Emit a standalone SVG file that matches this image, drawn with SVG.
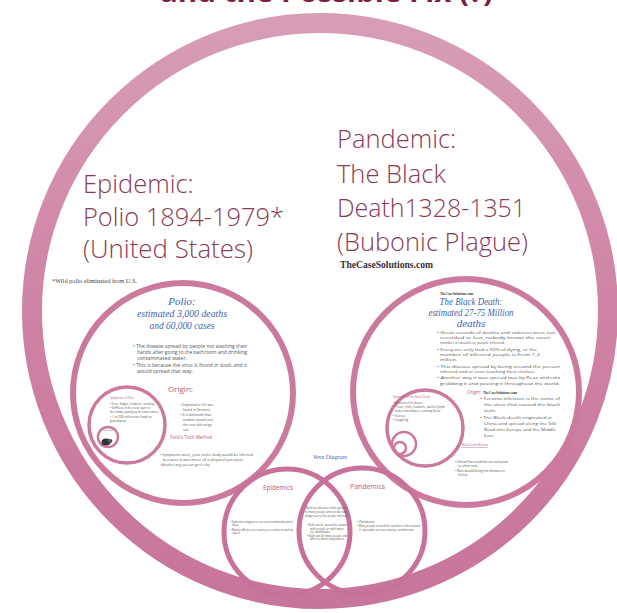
<svg xmlns="http://www.w3.org/2000/svg" width="617" height="613" viewBox="0 0 617 613">
<defs>
<linearGradient id="ringGrad" x1="0" y1="0" x2="0" y2="1">
<stop offset="0" stop-color="#d79db6"/>
<stop offset="0.5" stop-color="#cf83a4"/>
<stop offset="1" stop-color="#c8759b"/>
</linearGradient>
</defs>
<style>
.ring{fill:none;stroke:#cb7a9e}
.big{stroke:url(#ringGrad);stroke-width:20}
.med{stroke-width:6}
.sm{stroke-width:3.5}
.xs{stroke-width:2.5}
.venn{fill:none;stroke:#c8729b;stroke-width:5}
.head{font-family:"Open Sans","Liberation Sans",sans-serif;font-size:25.5px;font-weight:300;fill:#8a3b55}
.blue{font-family:"Liberation Serif",serif;font-style:italic;fill:#3d63b2}
.body{font-family:"Open Sans","Liberation Sans",sans-serif;fill:#555}
.pink{font-family:"Open Sans","Liberation Sans",sans-serif;fill:#b4577f}
.site{font-family:"Liberation Serif",serif;font-weight:bold;fill:#333}
</style>
<rect width="617" height="613" fill="#ffffff"/>
<g id="title">
<text x="160" y="2" font-family="Open Sans, Liberation Sans, sans-serif" font-weight="bold" font-size="28" fill="#7b1e40" textLength="333" lengthAdjust="spacingAndGlyphs">and the Possible Fix (?)</text>
</g>
<g id="outer-circle">
<circle class="ring big" cx="320" cy="311" r="288"/>
</g>
<g id="epidemic-heading">
<text class="head" x="83" y="193">Epidemic:</text>
<text class="head" x="83" y="226" textLength="201" lengthAdjust="spacingAndGlyphs">Polio 1894-1979*</text>
<text class="head" x="83" y="258" textLength="170" lengthAdjust="spacingAndGlyphs">(United States)</text>
<text x="52" y="283" font-family="Liberation Serif, serif" font-size="6" fill="#444" textLength="85" lengthAdjust="spacingAndGlyphs">*Wild polio eliminated from U.S.</text>
</g>
<g id="pandemic-heading">
<text class="head" x="337" y="148">Pandemic:</text>
<text class="head" x="337" y="183">The Black</text>
<text class="head" x="337" y="217" textLength="189" lengthAdjust="spacingAndGlyphs">Death1328-1351</text>
<text class="head" x="337" y="251" textLength="191" lengthAdjust="spacingAndGlyphs">(Bubonic Plague)</text>
<text class="site" x="340" y="268" font-size="10" textLength="93" lengthAdjust="spacingAndGlyphs">TheCaseSolutions.com</text>
</g>
<g id="polio-circle">
<circle class="ring med" cx="183" cy="393" r="110"/>
<text class="blue" x="182" y="305" font-size="11" text-anchor="middle">Polio:</text>
<text class="blue" x="182" y="317" font-size="11" text-anchor="middle" textLength="90" lengthAdjust="spacingAndGlyphs">estimated 3,000 deaths</text>
<text class="blue" x="182" y="329" font-size="11" text-anchor="middle" textLength="65" lengthAdjust="spacingAndGlyphs">and 60,000 cases</text>
<g class="body" font-size="4.5">
<text x="133" y="348" textLength="114" lengthAdjust="spacingAndGlyphs">• The disease spread by people not washing their</text>
<text x="137" y="354" textLength="110" lengthAdjust="spacingAndGlyphs">hands after going to the bathroom and drinking</text>
<text x="137" y="360" textLength="50" lengthAdjust="spacingAndGlyphs">contaminated water.</text>
<text x="133" y="367" textLength="114" lengthAdjust="spacingAndGlyphs">• This is because the virus is found in stool, and it</text>
<text x="137" y="373" textLength="56" lengthAdjust="spacingAndGlyphs">would spread that way.</text>
</g>
<text class="pink" x="168" y="392" font-size="8">Origin:</text>
<g class="body" font-size="3.6">
<text x="180" y="406" textLength="33" lengthAdjust="spacingAndGlyphs">• Originated in U.S. was</text>
<text x="183" y="411" textLength="27" lengthAdjust="spacingAndGlyphs">found in Vermont</text>
<text x="180" y="416" textLength="31" lengthAdjust="spacingAndGlyphs">• It is believed that</text>
<text x="183" y="421" textLength="30" lengthAdjust="spacingAndGlyphs">epidemic spread once</text>
<text x="183" y="426" textLength="29" lengthAdjust="spacingAndGlyphs">the virus did not go</text>
<text x="183" y="431" textLength="6" lengthAdjust="spacingAndGlyphs">out.</text>
</g>
<text class="pink" x="170" y="439" font-size="4.5" textLength="42" lengthAdjust="spacingAndGlyphs">Polio's Toxic Method</text>
<g class="body" font-size="4">
<text x="160" y="456" textLength="93" lengthAdjust="spacingAndGlyphs">• Symptoms were, your entire body would be infected</text>
<text x="163" y="461" textLength="80" lengthAdjust="spacingAndGlyphs">because it was more of a physical paralysis</text>
<text x="160" y="466" textLength="50" lengthAdjust="spacingAndGlyphs">• Another way you can get it is by</text>
</g>
<g id="polio-inner">
<circle class="ring sm" cx="127" cy="425" r="38"/>
<text class="pink" x="110" y="399" font-size="3" textLength="24" lengthAdjust="spacingAndGlyphs">Symptoms of Polio</text>
<g class="body" font-size="2.6">
<text x="110" y="405" textLength="44" lengthAdjust="spacingAndGlyphs">• Fever, fatigue, headache, vomiting</text>
<text x="110" y="409" textLength="40" lengthAdjust="spacingAndGlyphs">• Stiffness in the neck, pain in</text>
<text x="110" y="413" textLength="48" lengthAdjust="spacingAndGlyphs">the limbs, paralysis in some cases</text>
<text x="110" y="418" textLength="42" lengthAdjust="spacingAndGlyphs">• 1 in 200 infections leads to</text>
<text x="110" y="422" textLength="16" lengthAdjust="spacingAndGlyphs">paralysis</text>
</g>
<circle class="ring xs" cx="108" cy="437" r="10"/>
<g class="body" font-size="2">
<text x="103" y="431" textLength="10" lengthAdjust="spacingAndGlyphs">Polio virus</text>
</g>
<ellipse cx="106" cy="442" rx="4.5" ry="3.5" fill="#333"/>
<ellipse cx="110" cy="441" rx="2.5" ry="2" fill="#555"/>
</g>
</g>
<g id="plague-circle">
<circle class="ring med" cx="466" cy="392" r="113"/>
<text class="site" x="440" y="295" font-size="3.5" textLength="33" lengthAdjust="spacingAndGlyphs">TheCaseSolutions.com</text>
<text class="blue" x="471" y="305" font-size="11" text-anchor="middle" textLength="63" lengthAdjust="spacingAndGlyphs">The Black Death:</text>
<text class="blue" x="471" y="316" font-size="11" text-anchor="middle" textLength="85" lengthAdjust="spacingAndGlyphs">estimated 27-75 Million</text>
<text class="blue" x="471" y="327" font-size="11" text-anchor="middle">deaths</text>
<g class="body" font-size="4">
<text x="437" y="334" textLength="118" lengthAdjust="spacingAndGlyphs">• Great records of deaths and sickness were not</text>
<text x="440" y="339" textLength="110" lengthAdjust="spacingAndGlyphs">recorded or lost, nobody knows the exact</text>
<text x="440" y="344" textLength="65" lengthAdjust="spacingAndGlyphs">number of deaths or people infected.</text>
<text x="437" y="351" textLength="100" lengthAdjust="spacingAndGlyphs">• Everyone only had a 50% of dying, or the</text>
<text x="440" y="356" textLength="100" lengthAdjust="spacingAndGlyphs">number of infected people is from 1-2</text>
<text x="440" y="361" textLength="17" lengthAdjust="spacingAndGlyphs">million.</text>
<text x="437" y="368" textLength="123" lengthAdjust="spacingAndGlyphs">• This disease spread by being around the person</text>
<text x="440" y="373" textLength="95" lengthAdjust="spacingAndGlyphs">infected and or even touching their clothes.</text>
<text x="437" y="379" textLength="123" lengthAdjust="spacingAndGlyphs">• Another way it was spread was by fleas and rats</text>
<text x="440" y="385" textLength="120" lengthAdjust="spacingAndGlyphs">grabbing it and passing it throughout the world.</text>
</g>
<text class="pink" x="467" y="394" font-size="6" textLength="14" lengthAdjust="spacingAndGlyphs">Origin:</text>
<text class="site" x="483" y="394" font-size="4.5" textLength="34" lengthAdjust="spacingAndGlyphs">TheCaseSolutions.com</text>
<g class="body" font-size="4">
<text x="480" y="400" textLength="80" lengthAdjust="spacingAndGlyphs">• Yersinia infection is the name of</text>
<text x="484" y="406" textLength="76" lengthAdjust="spacingAndGlyphs">the virus that caused the black</text>
<text x="484" y="412" textLength="12" lengthAdjust="spacingAndGlyphs">death.</text>
<text x="480" y="419" textLength="72" lengthAdjust="spacingAndGlyphs">• The Black death originated in</text>
<text x="484" y="425" textLength="72" lengthAdjust="spacingAndGlyphs">China and spread along the Silk</text>
<text x="484" y="431" textLength="72" lengthAdjust="spacingAndGlyphs">Road into Europe and the Middle</text>
<text x="484" y="437" textLength="10" lengthAdjust="spacingAndGlyphs">East.</text>
</g>
<text class="pink" x="462" y="446" font-size="4" textLength="26" lengthAdjust="spacingAndGlyphs" text-decoration="underline">Black Death Method</text>
<g class="body" font-size="3.2">
<text x="455" y="463" textLength="53" lengthAdjust="spacingAndGlyphs">• Infected fleas would bite rats and spread</text>
<text x="458" y="467" textLength="20" lengthAdjust="spacingAndGlyphs">to other rats.</text>
<text x="455" y="472" textLength="50" lengthAdjust="spacingAndGlyphs">• Rats would bring the disease to</text>
<text x="458" y="476" textLength="10" lengthAdjust="spacingAndGlyphs">the ships.</text>
</g>
<g id="plague-inner">
<circle class="ring sm" cx="425" cy="428" r="38"/>
<text class="pink" x="393" y="398" font-size="3" textLength="37" lengthAdjust="spacingAndGlyphs">Symptoms of the Black Death</text>
<g class="body" font-size="2.6">
<text x="393" y="404" textLength="30" lengthAdjust="spacingAndGlyphs">• Symptoms of the disease:</text>
<text x="395" y="408" textLength="50" lengthAdjust="spacingAndGlyphs">• Fever, chills, headache, swollen lymph</text>
<text x="395" y="412" textLength="45" lengthAdjust="spacingAndGlyphs">nodes called buboes, vomiting blood</text>
<text x="393" y="417" textLength="12" lengthAdjust="spacingAndGlyphs">• Sores</text>
<text x="393" y="421" textLength="15" lengthAdjust="spacingAndGlyphs">• Coughing</text>
</g>
<circle class="ring xs" cx="404" cy="444" r="12"/>
<circle class="ring xs" cx="400" cy="448" r="6"/>
</g>
</g>
<g id="venn-diagram">
<text class="blue" x="330" y="459" font-size="5.5" text-anchor="middle" textLength="34" lengthAdjust="spacingAndGlyphs">Venn Diagram</text>
<circle class="venn" cx="287" cy="532" r="63"/>
<circle class="venn" cx="362" cy="531" r="63"/>
<text class="pink" x="263" y="490" font-size="7" textLength="30" lengthAdjust="spacingAndGlyphs">Epidemics</text>
<text class="pink" x="350" y="489" font-size="7" textLength="35" lengthAdjust="spacingAndGlyphs">Pandemics</text>
<g class="body" font-size="2.6">
<text x="230" y="523" textLength="63" lengthAdjust="spacingAndGlyphs">• Epidemics happen in one area/community and it</text>
<text x="232" y="526" textLength="6" lengthAdjust="spacingAndGlyphs">stays</text>
<text x="230" y="531" textLength="63" lengthAdjust="spacingAndGlyphs">• Mainly affects one country or continent and its</text>
<text x="232" y="534" textLength="8" lengthAdjust="spacingAndGlyphs">regions</text>
<text x="326" y="509" text-anchor="middle" textLength="40" lengthAdjust="spacingAndGlyphs">Both are diseases that spread</text>
<text x="326" y="513" text-anchor="middle" textLength="42" lengthAdjust="spacingAndGlyphs">to many people and can be very</text>
<text x="326" y="517" text-anchor="middle" textLength="42" lengthAdjust="spacingAndGlyphs">dangerous to the people infected</text>
<text x="307" y="526" textLength="40" lengthAdjust="spacingAndGlyphs">• Both can be spread by contact</text>
<text x="310" y="530" textLength="34" lengthAdjust="spacingAndGlyphs">with people or with water</text>
<text x="310" y="533" textLength="20" lengthAdjust="spacingAndGlyphs">or animals</text>
<text x="307" y="537" textLength="40" lengthAdjust="spacingAndGlyphs">• Both can kill many people and</text>
<text x="310" y="540" textLength="34" lengthAdjust="spacingAndGlyphs">affect a whole population</text>
<text x="357" y="523" textLength="18" lengthAdjust="spacingAndGlyphs">• Pandemic</text>
<text x="357" y="527" textLength="63" lengthAdjust="spacingAndGlyphs">• Many people around the world are infected and</text>
<text x="359" y="531" textLength="55" lengthAdjust="spacingAndGlyphs">it spreads across many continents</text>
</g>
</g>
</svg>
